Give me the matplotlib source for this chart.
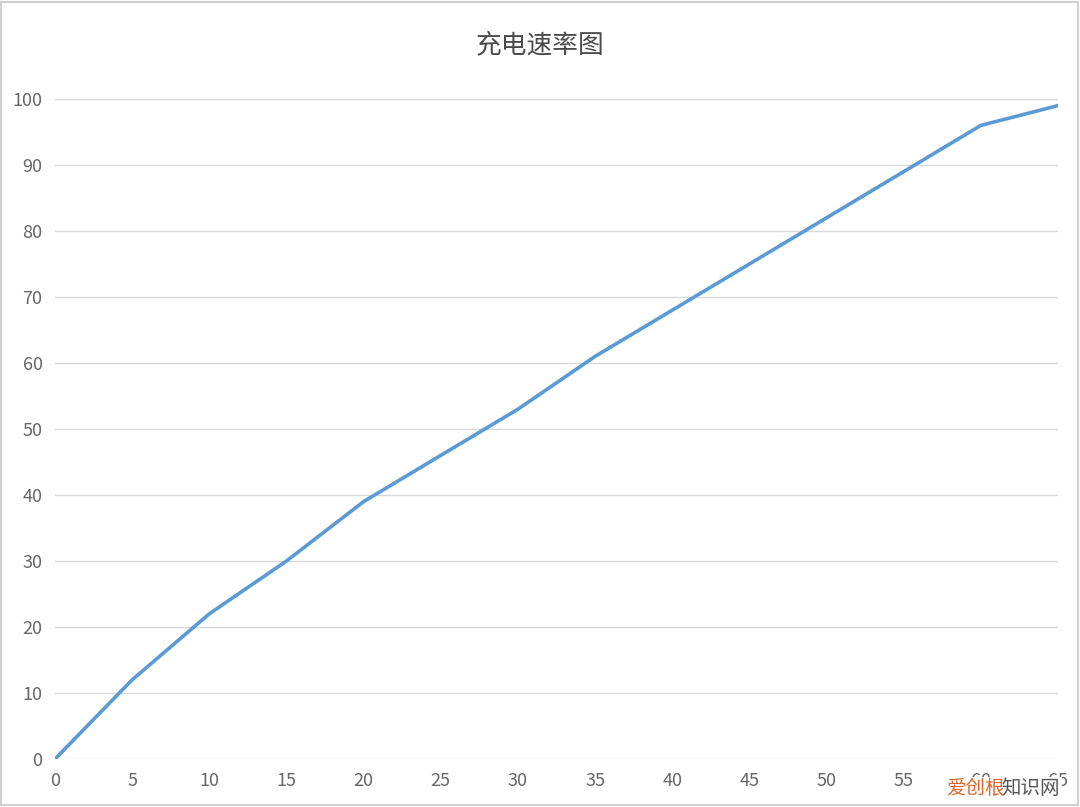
import matplotlib
matplotlib.use("Agg")
import matplotlib.pyplot as plt
from matplotlib.patches import Rectangle

plt.rcParams['font.family'] = ['Noto Sans CJK SC', 'DejaVu Sans']

title = "充电速率图"
minutes = [0, 5, 10, 15, 20, 25, 30, 35, 40, 45, 50, 55, 60, 65]
percent = [0, 12, 22, 30, 39, 46, 53, 61, 68, 75, 82, 89, 96, 99]
x_ticks = list(range(0, 70, 5))
y_ticks = list(range(0, 110, 10))

W, H = 1080, 807
fig = plt.figure(figsize=(W / 100, H / 100), dpi=100)
ax = fig.add_axes([55/W, 48/H, (1058-55)/W, (759-99)/H])

ax.plot(minutes, percent, color='#5B9BD5', linewidth=2.6, solid_capstyle='round', zorder=3)

ax.set_xlim(0, 65)
ax.set_ylim(0, 100)
ax.set_xticks(x_ticks)
ax.set_yticks(y_ticks)
ax.grid(axis='y', color='#d9d9d9', linewidth=1.0)
ax.grid(axis='x', visible=False)
for s in ax.spines.values():
    s.set_visible(False)
ax.tick_params(length=0, labelsize=13, colors='#666666')
ax.tick_params(axis='x', pad=9)
ax.tick_params(axis='y', pad=9)
ax.set_axisbelow(True)

fig.text(0.5, 1 - 45/H, title, ha='center', va='center', fontsize=18.5, color='#4a4a4a')

# watermark on an opaque patch, drawn over the last tick labels as in the reference
fig.patches.append(Rectangle((944/W, 1 - 800/H), (1062-944)/W, (800-777)/H,
                             transform=fig.transFigure, facecolor='white', edgecolor='none',
                             alpha=0.92, zorder=4))
fig.text(946/W, 1 - 788/H, "爱创根", ha='left', va='center', fontsize=14,
         color='#e0662a', zorder=5)
fig.text(1001/W, 1 - 788/H, "知识网", ha='left', va='center', fontsize=14,
         color='#555555', zorder=5)

# frame
fig.patches.append(Rectangle((0.001, 0.002), 0.997, 0.996, transform=fig.transFigure,
                             fill=False, edgecolor='#d0d0d0', linewidth=1.5, zorder=6))

fig.savefig("out.png", dpi=100)
